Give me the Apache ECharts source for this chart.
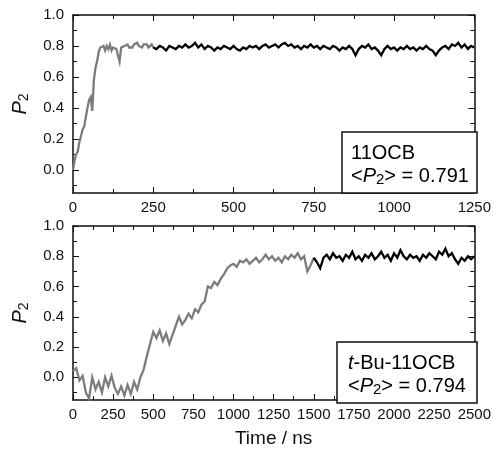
<!DOCTYPE html>
<html>
<head>
<meta charset="utf-8">
<script src="https://cdn.jsdelivr.net/npm/echarts@6/dist/echarts.min.js"></script>
<style>html,body{margin:0;padding:0;background:#fff;}#c{width:494px;height:449px;}</style>
</head>
<body>
<div id="c"></div>
<script>
// ---- data ----
const topXTicks = [0, 250, 500, 750, 1000, 1250];
const botXTicks = [0, 250, 500, 750, 1000, 1250, 1500, 1750, 2000, 2250, 2500];
const yMajorTicks = [0, 0.2, 0.4, 0.6, 0.8, 1.0];
const yMinorTicks = [-0.1, 0.1, 0.3, 0.5, 0.7, 0.9];

// 11OCB, equilibration (grey), t = 0..250 ns every 5 ns
const topGrayStart = 0, topGrayStep = 5;
const topGray = [0.00, 0.06, 0.10, 0.12, 0.18, 0.22, 0.26, 0.28, 0.34, 0.40,
  0.45, 0.47, 0.38, 0.58, 0.66, 0.70, 0.76, 0.79, 0.78, 0.80,
  0.77, 0.80, 0.78, 0.81, 0.77, 0.79, 0.80, 0.78, 0.79, 0.70,
  0.79, 0.78, 0.80, 0.79, 0.81, 0.79, 0.80, 0.79, 0.81, 0.80,
  0.82, 0.80, 0.81, 0.79, 0.81, 0.80, 0.81, 0.79, 0.80, 0.81, 0.79];
// 11OCB, production (black), t = 250..1250 ns every 10 ns
const topBlackStart = 250, topBlackStep = 10;
const topBlack = [0.79, 0.78, 0.80, 0.79, 0.77, 0.80, 0.79, 0.78, 0.80, 0.79,
  0.81, 0.79, 0.80, 0.82, 0.79, 0.81, 0.78, 0.80, 0.79, 0.77,
  0.79, 0.78, 0.80, 0.79, 0.78, 0.80, 0.78, 0.77, 0.79, 0.78,
  0.80, 0.79, 0.80, 0.78, 0.80, 0.81, 0.79, 0.80, 0.81, 0.79,
  0.81, 0.82, 0.80, 0.81, 0.79, 0.80, 0.78, 0.80, 0.79, 0.81,
  0.79, 0.80, 0.78, 0.80, 0.79, 0.78, 0.80, 0.79, 0.77, 0.79,
  0.78, 0.80, 0.78, 0.74, 0.78, 0.80, 0.79, 0.81, 0.78, 0.79,
  0.77, 0.74, 0.78, 0.80, 0.78, 0.79, 0.77, 0.79, 0.78, 0.80,
  0.78, 0.79, 0.77, 0.79, 0.78, 0.80, 0.78, 0.77, 0.74, 0.77,
  0.79, 0.80, 0.78, 0.81, 0.80, 0.82, 0.79, 0.81, 0.78, 0.80, 0.79];
// t-Bu-11OCB, equilibration (grey), t = 0..1500 ns every 20 ns
const botGrayStart = 0, botGrayStep = 20;
const botGray = [0.04, 0.06, -0.02, 0.01, -0.10, -0.14, 0.00, -0.08, -0.03, -0.10,
  0.00, -0.06, 0.01, -0.07, -0.11, -0.06, -0.12, -0.05, -0.11, -0.03,
  -0.08, 0.00, 0.05, 0.14, 0.22, 0.30, 0.26, 0.31, 0.24, 0.29,
  0.22, 0.28, 0.34, 0.40, 0.35, 0.38, 0.42, 0.39, 0.45, 0.43,
  0.48, 0.50, 0.60, 0.59, 0.63, 0.61, 0.65, 0.68, 0.72, 0.74,
  0.75, 0.73, 0.77, 0.76, 0.78, 0.75, 0.77, 0.79, 0.76, 0.78,
  0.81, 0.78, 0.80, 0.77, 0.79, 0.76, 0.80, 0.78, 0.81, 0.79,
  0.82, 0.78, 0.80, 0.70, 0.74, 0.79];
// t-Bu-11OCB, production (black), t = 1500..2500 ns every 20 ns
const botBlackStart = 1500, botBlackStep = 20;
const botBlack = [0.79, 0.76, 0.72, 0.79, 0.81, 0.78, 0.82, 0.79, 0.80, 0.77,
  0.81, 0.79, 0.83, 0.78, 0.80, 0.77, 0.81, 0.79, 0.82, 0.78,
  0.80, 0.83, 0.79, 0.81, 0.77, 0.82, 0.79, 0.84, 0.80, 0.78,
  0.81, 0.79, 0.80, 0.77, 0.81, 0.79, 0.82, 0.80, 0.78, 0.83,
  0.81, 0.85, 0.80, 0.82, 0.78, 0.75, 0.79, 0.77, 0.80, 0.78, 0.80];

function pairs(start, step, vals) { return vals.map((v, i) => [start + i * step, v]); }

const FONT = 'Liberation Sans, Arial, Helvetica, sans-serif';
const INK = '#111';
const GREY = '#7c7c7c';
const LW = 2.3;

function xAxes(gridIndex, max, ticks, bottomExtra) {
  const base = {
    type: 'value', gridIndex, min: 0, max, interval: 250,
    axisLine: { show: true, onZero: false, lineStyle: { color: INK, width: 1.5 } },
    axisTick: { show: true, inside: true, length: 6, lineStyle: { color: INK, width: 1 } },
    minorTick: { show: true, splitNumber: 2, length: 4, lineStyle: { color: INK, width: 1 } },
    splitLine: { show: false }
  };
  const bottom = Object.assign({}, base, {
    position: 'bottom',
    axisLabel: { show: true, color: INK, fontSize: 15, fontFamily: FONT, margin: 7,
      customValues: ticks, formatter: v => String(v) }
  }, bottomExtra || {});
  const top = Object.assign({}, base, { position: 'top', axisLabel: { show: false } });
  return [bottom, top];
}

function yAxes(gridIndex) {
  const common = {
    type: 'value', gridIndex, min: -0.15, max: 1.0,
    splitLine: { show: false }
  };
  const major = (pos, labels) => Object.assign({}, common, {
    position: pos,
    axisLine: { show: true, onZero: false, lineStyle: { color: INK, width: 1.5 } },
    axisTick: { show: true, inside: true, length: 6, customValues: yMajorTicks, lineStyle: { color: INK, width: 1 } },
    axisLabel: labels ? { show: true, color: INK, fontSize: 15, fontFamily: FONT, margin: 9,
      customValues: yMajorTicks, formatter: v => v.toFixed(1) } : { show: false }
  });
  const minor = pos => Object.assign({}, common, {
    position: pos,
    axisLine: { show: false, onZero: false },
    axisTick: { show: true, inside: true, length: 4, customValues: yMinorTicks, lineStyle: { color: INK, width: 1 } },
    axisLabel: { show: false }
  });
  const left = major('left', true);
  left.name = '{i|P}{s|2}';
  left.nameLocation = 'middle';
  left.nameRotate = 90;
  left.nameGap = 42;
  left.nameTextStyle = {
    rich: {
      i: { fontSize: 20, fontStyle: 'italic', fontFamily: FONT, color: INK, lineHeight: 22 },
      s: { fontSize: 14, fontFamily: FONT, color: INK, lineHeight: 8, verticalAlign: 'bottom' }
    }
  };
  return [left, major('right', false), minor('left'), minor('right')];
}

const richBox = {
  n: { fontSize: 20, fontFamily: FONT, color: INK, lineHeight: 23 },
  i: { fontSize: 20, fontFamily: FONT, color: INK, lineHeight: 23, fontStyle: 'italic' },
  s: { fontSize: 15, fontFamily: FONT, color: INK, lineHeight: 8, verticalAlign: 'bottom' }
};

function lineSeries(xi, yi, data, color) {
  return { type: 'line', xAxisIndex: xi, yAxisIndex: yi, data, showSymbol: false,
    lineStyle: { color, width: LW, join: 'miter' }, itemStyle: { color } };
}

const chart = echarts.init(document.getElementById('c'), null, { renderer: 'canvas' });
chart.setOption({
  animation: false,
  backgroundColor: '#fff',
  grid: [
    { left: 73, top: 15, width: 404, height: 178 },
    { left: 73, top: 226, width: 404, height: 177 }
  ],
  xAxis: [
    ...xAxes(0, 1250, topXTicks),
    ...xAxes(1, 2500, botXTicks, {
      name: 'Time / ns', nameLocation: 'middle', nameGap: 29,
      nameTextStyle: { fontSize: 19, fontFamily: FONT, color: INK }
    })
  ],
  yAxis: [...yAxes(0), ...yAxes(1)],
  series: [
    lineSeries(0, 0, pairs(topGrayStart, topGrayStep, topGray), GREY),
    lineSeries(0, 0, pairs(topBlackStart, topBlackStep, topBlack), '#000'),
    lineSeries(2, 4, pairs(botGrayStart, botGrayStep, botGray), GREY),
    lineSeries(2, 4, pairs(botBlackStart, botBlackStep, botBlack), '#000')
  ],
  graphic: [
    { type: 'rect', z: 100, shape: { x: 342, y: 132, width: 135, height: 61 },
      style: { fill: '#fff', stroke: INK, lineWidth: 1.5 } },
    { type: 'text', z: 101, x: 351, y: 141.5,
      style: { text: '{n|11OCB}\n{n|<}{i|P}{s|2}{n|> = 0.791}', rich: richBox, verticalAlign: 'top', align: 'left' } },
    { type: 'rect', z: 100, shape: { x: 337, y: 342, width: 140, height: 61 },
      style: { fill: '#fff', stroke: INK, lineWidth: 1.5 } },
    { type: 'text', z: 101, x: 348, y: 351.5,
      style: { text: '{i|t}{n|-Bu-11OCB}\n{n|<}{i|P}{s|2}{n|> = 0.794}', rich: richBox, verticalAlign: 'top', align: 'left' } }
  ]
});
</script>
</body>
</html>
